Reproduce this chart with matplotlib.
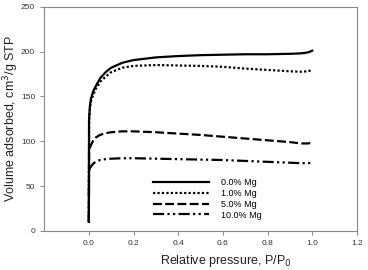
import matplotlib
matplotlib.use('Agg')
import matplotlib.pyplot as plt

plt.rcParams['font.family'] = ['Liberation Sans', 'DejaVu Sans']

# relative pressure points
p = [0.0, 0.001, 0.005, 0.01, 0.02, 0.03, 0.05, 0.075, 0.1, 0.15, 0.2, 0.3, 0.4,
     0.5, 0.6, 0.7, 0.8, 0.9, 0.95, 0.98, 1.0]

mg0 = [10, 125, 140, 148, 156, 161, 170, 177, 182, 187.5, 190.5, 193.5, 195,
       196, 196.5, 197, 197, 197.5, 198, 199, 201]
mg1 = [10, 122, 137, 145, 152, 158, 166, 172, 177, 182, 184, 185, 184.5,
       184, 183, 181, 179.5, 178, 177.5, 178, 179.5]
mg5 = [10, 88, 93, 96, 101, 104, 107, 109, 110, 111, 111, 110, 108.5,
       107, 105, 103, 101, 99, 97.5, 97.5, 98.5]
mg10 = [10, 68, 70, 72, 75, 77, 79, 80, 80.5, 81, 81, 80.5, 80,
        79.5, 79, 78, 77, 76, 75.5, 75.5, 76]

labels = ['0.0% Mg', '1.0% Mg', '5.0% Mg', '10.0% Mg']
styles = ['-', (0, (1, 1)), (0, (4, 1.5)), (0, (5, 1.5, 1, 1.5, 1, 1.5))]

fig = plt.figure(figsize=(3.68, 2.70), dpi=100)
ax = fig.add_axes([0.12, 0.145, 0.85, 0.83])

for y, ls, lab in zip([mg0, mg1, mg5, mg10], styles, labels):
    ax.plot(p, y, color='black', linestyle=ls, linewidth=1.6, label=lab)

ax.set_xlim(-0.2, 1.2)
ax.set_ylim(0, 250)
ax.set_xticks([0.0, 0.2, 0.4, 0.6, 0.8, 1.0, 1.2])
ax.set_xticklabels(['0.0', '0.2', '0.4', '0.6', '0.8', '1.0', '1.2'])
ax.set_yticks([0, 50, 100, 150, 200, 250])

for s in ax.spines.values():
    s.set_color('#888888')
    s.set_linewidth(0.8)
ax.tick_params(direction='out', length=3, width=0.7, color='#888888',
               labelsize=6, labelcolor='#333333')

ax.set_xlabel('Relative pressure, P/P$_0$', fontsize=9, color='#222222')
ax.set_ylabel('Volume adsorbed, cm$^3$/g STP', fontsize=9, color='#222222')
ax.xaxis.set_label_coords(0.58, -0.1)
ax.yaxis.set_label_coords(-0.073, 0.5)

ax.legend(loc='lower left', bbox_to_anchor=(0.348, 0.05), frameon=False, fontsize=6.5,
          handlelength=6.2, handletextpad=1.3, labelspacing=0.2,
          borderpad=0, borderaxespad=0)

fig.savefig('out.png', dpi=100)
